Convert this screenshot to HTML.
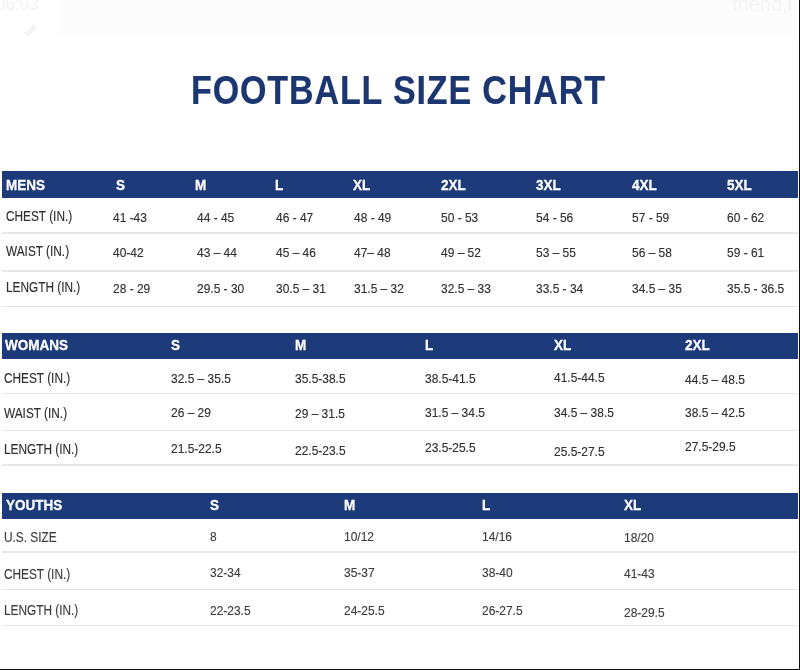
<!DOCTYPE html>
<html><head><meta charset="utf-8"><style>
html,body{margin:0;padding:0;background:#fff;}
body{width:800px;height:670px;position:relative;overflow:hidden;font-family:"Liberation Sans",sans-serif;}
#w{position:absolute;left:0;top:0;width:800px;height:670px;filter:blur(0.35px);}
.t{position:absolute;white-space:pre;transform-origin:0 0;}
.b{-webkit-text-stroke:0.15px #303030;}
.by{-webkit-text-stroke:0.15px #3e3e3e;}
.h{-webkit-text-stroke:0.3px #fff;}
.ti{letter-spacing:1.05px;-webkit-text-stroke:0.2px #1b3670;}
.bar{position:absolute;left:1.5px;width:796.5px;background:#1d3a7a;}
.sep{position:absolute;left:2px;width:796px;height:1.6px;background:#e6e6e6;}
</style></head><body><div id="w">

<div style="position:absolute;left:58px;top:0;width:741px;height:36.5px;background:#fcfcfc"></div>
<div style="position:absolute;left:-4px;top:-6px;font-size:19px;line-height:19px;color:#f3f3f3;white-space:pre;transform:scaleX(0.9);transform-origin:0 0">06:03</div>
<div style="position:absolute;left:732px;top:-6px;font-size:20px;line-height:20px;color:#f4f4f4;white-space:pre">friend,i</div>
<svg style="position:absolute;left:20px;top:21px" width="20" height="18" viewBox="0 0 20 18"><path d="M3 12 L10 7 L14 2 L17 8 L12 12 L9 16 Z" fill="#f5f5f5"/></svg>
<div class="bar" style="top:171.20px;height:26.40px"></div>
<div class="bar" style="top:332.60px;height:26.00px"></div>
<div class="bar" style="top:493.20px;height:25.60px"></div>
<div class="sep" style="top:232.40px"></div>
<div class="sep" style="top:270.40px"></div>
<div class="sep" style="top:305.80px"></div>
<div class="sep" style="top:392.70px"></div>
<div class="sep" style="top:429.50px"></div>
<div class="sep" style="top:464.20px"></div>
<div class="sep" style="top:551.00px"></div>
<div class="sep" style="top:588.70px"></div>
<div class="sep" style="top:624.80px"></div>
<div class="t ti" style="left:190.86px;top:70.24px;font-size:41px;line-height:41px;color:#1b3670;font-weight:bold;transform:scaleX(0.830)">FOOTBALL SIZE CHART</div>
<div class="t h" style="left:5.79px;top:177.20px;font-size:15px;line-height:15px;color:#ffffff;font-weight:bold;transform:scaleX(0.900)">MENS</div>
<div class="t h" style="left:116.19px;top:177.20px;font-size:15px;line-height:15px;color:#ffffff;font-weight:bold;transform:scaleX(0.900)">S</div>
<div class="t h" style="left:194.79px;top:177.20px;font-size:15px;line-height:15px;color:#ffffff;font-weight:bold;transform:scaleX(0.900)">M</div>
<div class="t h" style="left:275.19px;top:177.20px;font-size:15px;line-height:15px;color:#ffffff;font-weight:bold;transform:scaleX(0.900)">L</div>
<div class="t h" style="left:353.19px;top:177.20px;font-size:15px;line-height:15px;color:#ffffff;font-weight:bold;transform:scaleX(0.900)">XL</div>
<div class="t h" style="left:440.69px;top:177.20px;font-size:15px;line-height:15px;color:#ffffff;font-weight:bold;transform:scaleX(0.900)">2XL</div>
<div class="t h" style="left:535.69px;top:177.20px;font-size:15px;line-height:15px;color:#ffffff;font-weight:bold;transform:scaleX(0.900)">3XL</div>
<div class="t h" style="left:631.69px;top:177.20px;font-size:15px;line-height:15px;color:#ffffff;font-weight:bold;transform:scaleX(0.900)">4XL</div>
<div class="t h" style="left:726.69px;top:177.20px;font-size:15px;line-height:15px;color:#ffffff;font-weight:bold;transform:scaleX(0.900)">5XL</div>
<div class="t b" style="left:5.89px;top:209.06px;font-size:14px;line-height:14px;color:#303030;font-weight:normal;transform:scaleX(0.845)">CHEST (IN.)</div>
<div class="t b" style="left:5.89px;top:244.36px;font-size:14px;line-height:14px;color:#303030;font-weight:normal;transform:scaleX(0.845)">WAIST (IN.)</div>
<div class="t b" style="left:5.89px;top:279.96px;font-size:14px;line-height:14px;color:#303030;font-weight:normal;transform:scaleX(0.845)">LENGTH (IN.)</div>
<div class="t b" style="left:113.28px;top:211.42px;font-size:13px;line-height:13px;color:#303030;font-weight:normal;transform:scaleX(0.920)">41 -43</div>
<div class="t b" style="left:196.78px;top:211.42px;font-size:13px;line-height:13px;color:#303030;font-weight:normal;transform:scaleX(0.920)">44 - 45</div>
<div class="t b" style="left:276.28px;top:211.42px;font-size:13px;line-height:13px;color:#303030;font-weight:normal;transform:scaleX(0.920)">46 - 47</div>
<div class="t b" style="left:354.28px;top:211.42px;font-size:13px;line-height:13px;color:#303030;font-weight:normal;transform:scaleX(0.920)">48 - 49</div>
<div class="t b" style="left:441.28px;top:211.42px;font-size:13px;line-height:13px;color:#303030;font-weight:normal;transform:scaleX(0.920)">50 - 53</div>
<div class="t b" style="left:536.28px;top:211.42px;font-size:13px;line-height:13px;color:#303030;font-weight:normal;transform:scaleX(0.920)">54 - 56</div>
<div class="t b" style="left:631.78px;top:211.42px;font-size:13px;line-height:13px;color:#303030;font-weight:normal;transform:scaleX(0.920)">57 - 59</div>
<div class="t b" style="left:726.78px;top:211.42px;font-size:13px;line-height:13px;color:#303030;font-weight:normal;transform:scaleX(0.920)">60 - 62</div>
<div class="t b" style="left:113.28px;top:246.22px;font-size:13px;line-height:13px;color:#303030;font-weight:normal;transform:scaleX(0.920)">40-42</div>
<div class="t b" style="left:196.78px;top:246.22px;font-size:13px;line-height:13px;color:#303030;font-weight:normal;transform:scaleX(0.920)">43 – 44</div>
<div class="t b" style="left:276.28px;top:246.22px;font-size:13px;line-height:13px;color:#303030;font-weight:normal;transform:scaleX(0.920)">45 – 46</div>
<div class="t b" style="left:354.28px;top:246.22px;font-size:13px;line-height:13px;color:#303030;font-weight:normal;transform:scaleX(0.920)">47– 48</div>
<div class="t b" style="left:441.28px;top:246.22px;font-size:13px;line-height:13px;color:#303030;font-weight:normal;transform:scaleX(0.920)">49 – 52</div>
<div class="t b" style="left:536.28px;top:246.22px;font-size:13px;line-height:13px;color:#303030;font-weight:normal;transform:scaleX(0.920)">53 – 55</div>
<div class="t b" style="left:631.78px;top:246.22px;font-size:13px;line-height:13px;color:#303030;font-weight:normal;transform:scaleX(0.920)">56 – 58</div>
<div class="t b" style="left:726.78px;top:246.22px;font-size:13px;line-height:13px;color:#303030;font-weight:normal;transform:scaleX(0.920)">59 - 61</div>
<div class="t b" style="left:113.28px;top:282.12px;font-size:13px;line-height:13px;color:#303030;font-weight:normal;transform:scaleX(0.920)">28 - 29</div>
<div class="t b" style="left:196.78px;top:282.12px;font-size:13px;line-height:13px;color:#303030;font-weight:normal;transform:scaleX(0.920)">29.5 - 30</div>
<div class="t b" style="left:276.28px;top:282.12px;font-size:13px;line-height:13px;color:#303030;font-weight:normal;transform:scaleX(0.920)">30.5 – 31</div>
<div class="t b" style="left:354.28px;top:282.12px;font-size:13px;line-height:13px;color:#303030;font-weight:normal;transform:scaleX(0.920)">31.5 – 32</div>
<div class="t b" style="left:441.28px;top:282.12px;font-size:13px;line-height:13px;color:#303030;font-weight:normal;transform:scaleX(0.920)">32.5 – 33</div>
<div class="t b" style="left:536.28px;top:282.12px;font-size:13px;line-height:13px;color:#303030;font-weight:normal;transform:scaleX(0.920)">33.5 - 34</div>
<div class="t b" style="left:631.78px;top:282.12px;font-size:13px;line-height:13px;color:#303030;font-weight:normal;transform:scaleX(0.920)">34.5 – 35</div>
<div class="t b" style="left:726.78px;top:282.12px;font-size:13px;line-height:13px;color:#303030;font-weight:normal;transform:scaleX(0.920)">35.5 - 36.5</div>
<div class="t h" style="left:4.79px;top:336.60px;font-size:15px;line-height:15px;color:#ffffff;font-weight:bold;transform:scaleX(0.900)">WOMANS</div>
<div class="t h" style="left:170.89px;top:336.60px;font-size:15px;line-height:15px;color:#ffffff;font-weight:bold;transform:scaleX(0.900)">S</div>
<div class="t h" style="left:294.69px;top:336.60px;font-size:15px;line-height:15px;color:#ffffff;font-weight:bold;transform:scaleX(0.900)">M</div>
<div class="t h" style="left:424.79px;top:336.60px;font-size:15px;line-height:15px;color:#ffffff;font-weight:bold;transform:scaleX(0.900)">L</div>
<div class="t h" style="left:553.59px;top:336.60px;font-size:15px;line-height:15px;color:#ffffff;font-weight:bold;transform:scaleX(0.900)">XL</div>
<div class="t h" style="left:684.79px;top:336.60px;font-size:15px;line-height:15px;color:#ffffff;font-weight:bold;transform:scaleX(0.900)">2XL</div>
<div class="t b" style="left:4.29px;top:371.46px;font-size:14px;line-height:14px;color:#303030;font-weight:normal;transform:scaleX(0.845)">CHEST (IN.)</div>
<div class="t b" style="left:4.29px;top:406.26px;font-size:14px;line-height:14px;color:#303030;font-weight:normal;transform:scaleX(0.845)">WAIST (IN.)</div>
<div class="t b" style="left:4.29px;top:441.56px;font-size:14px;line-height:14px;color:#303030;font-weight:normal;transform:scaleX(0.845)">LENGTH (IN.)</div>
<div class="t b" style="left:170.98px;top:371.92px;font-size:13px;line-height:13px;color:#303030;font-weight:normal;transform:scaleX(0.920)">32.5 – 35.5</div>
<div class="t b" style="left:294.78px;top:371.92px;font-size:13px;line-height:13px;color:#303030;font-weight:normal;transform:scaleX(0.920)">35.5-38.5</div>
<div class="t b" style="left:424.88px;top:372.22px;font-size:13px;line-height:13px;color:#303030;font-weight:normal;transform:scaleX(0.920)">38.5-41.5</div>
<div class="t b" style="left:553.68px;top:371.42px;font-size:13px;line-height:13px;color:#303030;font-weight:normal;transform:scaleX(0.920)">41.5-44.5</div>
<div class="t b" style="left:684.88px;top:373.42px;font-size:13px;line-height:13px;color:#303030;font-weight:normal;transform:scaleX(0.920)">44.5 – 48.5</div>
<div class="t b" style="left:170.98px;top:406.22px;font-size:13px;line-height:13px;color:#303030;font-weight:normal;transform:scaleX(0.920)">26 – 29</div>
<div class="t b" style="left:294.78px;top:406.72px;font-size:13px;line-height:13px;color:#303030;font-weight:normal;transform:scaleX(0.920)">29 – 31.5</div>
<div class="t b" style="left:424.88px;top:406.22px;font-size:13px;line-height:13px;color:#303030;font-weight:normal;transform:scaleX(0.920)">31.5 – 34.5</div>
<div class="t b" style="left:553.68px;top:406.22px;font-size:13px;line-height:13px;color:#303030;font-weight:normal;transform:scaleX(0.920)">34.5 – 38.5</div>
<div class="t b" style="left:684.88px;top:406.22px;font-size:13px;line-height:13px;color:#303030;font-weight:normal;transform:scaleX(0.920)">38.5 – 42.5</div>
<div class="t b" style="left:170.98px;top:441.72px;font-size:13px;line-height:13px;color:#303030;font-weight:normal;transform:scaleX(0.920)">21.5-22.5</div>
<div class="t b" style="left:294.78px;top:443.72px;font-size:13px;line-height:13px;color:#303030;font-weight:normal;transform:scaleX(0.920)">22.5-23.5</div>
<div class="t b" style="left:424.88px;top:441.22px;font-size:13px;line-height:13px;color:#303030;font-weight:normal;transform:scaleX(0.920)">23.5-25.5</div>
<div class="t b" style="left:553.68px;top:444.92px;font-size:13px;line-height:13px;color:#303030;font-weight:normal;transform:scaleX(0.920)">25.5-27.5</div>
<div class="t b" style="left:684.88px;top:439.92px;font-size:13px;line-height:13px;color:#303030;font-weight:normal;transform:scaleX(0.920)">27.5-29.5</div>
<div class="t h" style="left:6.09px;top:497.10px;font-size:15px;line-height:15px;color:#ffffff;font-weight:bold;transform:scaleX(0.900)">YOUTHS</div>
<div class="t h" style="left:210.19px;top:497.10px;font-size:15px;line-height:15px;color:#ffffff;font-weight:bold;transform:scaleX(0.900)">S</div>
<div class="t h" style="left:344.19px;top:497.10px;font-size:15px;line-height:15px;color:#ffffff;font-weight:bold;transform:scaleX(0.900)">M</div>
<div class="t h" style="left:482.39px;top:497.10px;font-size:15px;line-height:15px;color:#ffffff;font-weight:bold;transform:scaleX(0.900)">L</div>
<div class="t h" style="left:624.19px;top:497.10px;font-size:15px;line-height:15px;color:#ffffff;font-weight:bold;transform:scaleX(0.900)">XL</div>
<div class="t by" style="left:4.29px;top:530.26px;font-size:14px;line-height:14px;color:#3e3e3e;font-weight:normal;transform:scaleX(0.845)">U.S. SIZE</div>
<div class="t by" style="left:4.29px;top:567.26px;font-size:14px;line-height:14px;color:#3e3e3e;font-weight:normal;transform:scaleX(0.845)">CHEST (IN.)</div>
<div class="t by" style="left:4.29px;top:603.06px;font-size:14px;line-height:14px;color:#3e3e3e;font-weight:normal;transform:scaleX(0.845)">LENGTH (IN.)</div>
<div class="t by" style="left:210.28px;top:530.12px;font-size:13px;line-height:13px;color:#3e3e3e;font-weight:normal;transform:scaleX(0.920)">8</div>
<div class="t by" style="left:344.28px;top:530.12px;font-size:13px;line-height:13px;color:#3e3e3e;font-weight:normal;transform:scaleX(0.920)">10/12</div>
<div class="t by" style="left:482.48px;top:530.12px;font-size:13px;line-height:13px;color:#3e3e3e;font-weight:normal;transform:scaleX(0.920)">14/16</div>
<div class="t by" style="left:624.28px;top:531.12px;font-size:13px;line-height:13px;color:#3e3e3e;font-weight:normal;transform:scaleX(0.920)">18/20</div>
<div class="t by" style="left:210.28px;top:565.72px;font-size:13px;line-height:13px;color:#3e3e3e;font-weight:normal;transform:scaleX(0.920)">32-34</div>
<div class="t by" style="left:344.28px;top:565.72px;font-size:13px;line-height:13px;color:#3e3e3e;font-weight:normal;transform:scaleX(0.920)">35-37</div>
<div class="t by" style="left:482.48px;top:565.72px;font-size:13px;line-height:13px;color:#3e3e3e;font-weight:normal;transform:scaleX(0.920)">38-40</div>
<div class="t by" style="left:624.28px;top:567.42px;font-size:13px;line-height:13px;color:#3e3e3e;font-weight:normal;transform:scaleX(0.920)">41-43</div>
<div class="t by" style="left:210.28px;top:604.12px;font-size:13px;line-height:13px;color:#3e3e3e;font-weight:normal;transform:scaleX(0.920)">22-23.5</div>
<div class="t by" style="left:344.28px;top:604.12px;font-size:13px;line-height:13px;color:#3e3e3e;font-weight:normal;transform:scaleX(0.920)">24-25.5</div>
<div class="t by" style="left:482.48px;top:603.92px;font-size:13px;line-height:13px;color:#3e3e3e;font-weight:normal;transform:scaleX(0.920)">26-27.5</div>
<div class="t by" style="left:624.28px;top:606.12px;font-size:13px;line-height:13px;color:#3e3e3e;font-weight:normal;transform:scaleX(0.920)">28-29.5</div>
<div style="position:absolute;left:798.6px;top:0;width:1.4px;height:670px;background:#111"></div>
<div style="position:absolute;left:0;top:668.7px;width:800px;height:1.3px;background:#111"></div>
</div></body></html>
